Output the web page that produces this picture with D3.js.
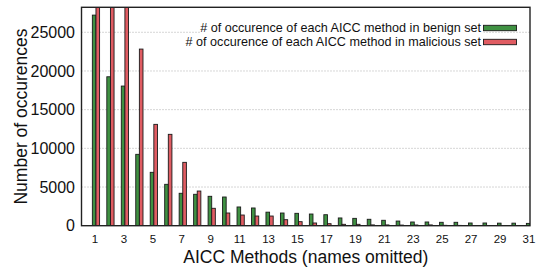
<!DOCTYPE html>
<html>
<head>
<meta charset="utf-8">
<script src="https://cdn.jsdelivr.net/npm/d3@7"></script>
<style>
  body { margin: 0; background: #fff; }
  text { font-family: "Liberation Sans", Arial, sans-serif; fill: #111; }
</style>
</head>
<body>
<svg id="chart" width="541" height="269"></svg>
<script>
// Method ids 1..31 (names omitted in the original)
const methods = d3.range(1, 32);
// occurrences per method (first 3 malicious bars run off the top)
const benign = [27220, 19250, 18050, 9225, 6900, 5350, 4190, 4060, 3800, 3710,
  2420, 2290, 1750, 1640, 1600, 1510, 1420, 1000, 950, 830,
  700, 600, 480, 480, 440, 440, 350, 350, 330, 330, 300];
const malicious = [30500, 29800, 28800, 22830, 13100, 11810, 8190, 4480, 2250, 1640,
  1380, 1250, 1250, 775, 520, 350, 260, 180, 180, 100,
  100, 80, 90, 100, 50, 40, 30, 20, 20, 20, 20];
const yTicks = [0, 5000, 10000, 15000, 20000, 25000];
const xTickLabels = methods.filter(d => d % 2 === 1);
const seriesNames = [
  "# of occurence of each AICC method in benign set",
  "# of occurence of each AICC method in malicious set"
];
const colors = ["#3f9142", "#e05c62"];

const svg = d3.select('#chart');
const plotL = 81.5, plotR = 530, plotT = 7.3, plotB = 225.7;

// x in method index units, y in occurrences
const x = d3.scaleLinear().domain([0, 31]).range([plotL, plotR]);
const y = d3.scaleLinear().domain([0, 28230]).range([plotB, plotT]);
const bw = 0.25; // width of one bar, in methods

svg.append('defs').append('clipPath').attr('id', 'clip')
  .append('rect')
  .attr('x', plotL).attr('y', plotT)
  .attr('width', plotR - plotL).attr('height', plotB - plotT);

// Grid lines
svg.append('g').selectAll('line')
  .data(yTicks.filter(d => d > 0))
  .join('line')
  .attr('x1', plotL).attr('x2', plotR)
  .attr('y1', d => y(d)).attr('y2', d => y(d))
  .attr('stroke', '#999')
  .attr('stroke-width', 0.8)
  .attr('stroke-dasharray', '1,2');

// Bars
const bars = svg.append('g').attr('clip-path', 'url(#clip)');
[benign, malicious].forEach((vals, s) => {
  bars.append('g').selectAll('rect')
    .data(vals)
    .join('rect')
    .attr('x', (d, i) => x(methods[i] - (s === 0 ? bw : 0)))
    .attr('width', x(bw) - x(0))
    .attr('y', d => y(d))
    .attr('height', d => y(0) - y(d))
    .attr('fill', colors[s])
    .attr('stroke', '#1a1a1a')
    .attr('stroke-width', 0.9);
});

// Frame
svg.append('rect')
  .attr('x', plotL).attr('y', plotT)
  .attr('width', plotR - plotL).attr('height', plotB - plotT)
  .attr('fill', 'none')
  .attr('stroke', '#222')
  .attr('stroke-width', 1.4);

// Y tick labels
svg.append('g').selectAll('text')
  .data(yTicks)
  .join('text')
  .attr('x', 75)
  .attr('y', d => y(d))
  .attr('dy', '0.36em')
  .attr('text-anchor', 'end')
  .style('font-size', '16px')
  .text(d => d);

// X tick labels
svg.append('g').selectAll('text')
  .data(xTickLabels)
  .join('text')
  .attr('x', d => x(d) - 1)
  .attr('y', 243)
  .attr('text-anchor', 'middle')
  .style('font-size', '11.5px')
  .text(d => d);

// Axis titles
svg.append('text')
  .attr('x', (plotL + plotR) / 2)
  .attr('y', 263)
  .attr('text-anchor', 'middle')
  .style('font-size', '17.5px')
  .text('AICC Methods (names omitted)');

svg.append('text')
  .attr('transform', `translate(27,${(plotT + plotB) / 2}) rotate(-90)`)
  .attr('text-anchor', 'middle')
  .style('font-size', '17.5px')
  .text('Number of occurences');

// Legend
const legend = svg.append('g');
seriesNames.forEach((name, i) => {
  const ly = 28 + i * 14;
  const t = legend.append('text')
    .attr('x', 481)
    .attr('y', ly)
    .attr('dy', '0.35em')
    .attr('text-anchor', 'end')
    .style('font-size', '12.6px')
    .text(name);
  const bb = t.node().getBBox();
  legend.insert('rect', 'text')
    .attr('x', bb.x).attr('y', bb.y + 1)
    .attr('width', bb.width + 2).attr('height', bb.height - 2)
    .attr('fill', '#fff');
  legend.append('rect')
    .attr('x', 483.5).attr('y', ly - 2.7)
    .attr('width', 33).attr('height', 5.4)
    .attr('fill', colors[i])
    .attr('stroke', '#1a1a1a')
    .attr('stroke-width', 0.9);
});
</script>
</body>
</html>
